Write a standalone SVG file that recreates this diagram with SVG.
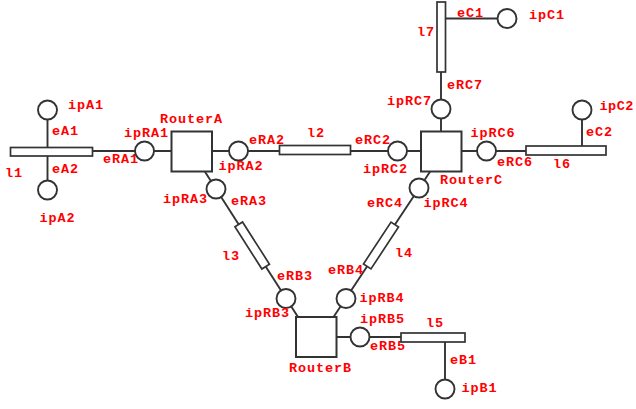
<svg xmlns="http://www.w3.org/2000/svg" width="636" height="409" viewBox="0 0 636 409">
<style>
.t{font-family:"Liberation Mono","DejaVu Sans Mono",monospace;font-size:13.5px;font-weight:bold;fill:#f00;letter-spacing:0.9px}
.c{fill:#fff;stroke:#333;stroke-width:1.9}
.r{fill:#fff;stroke:#333;stroke-width:2}
.b{fill:#fff;stroke:#333;stroke-width:1.7}
.l{stroke:#333;stroke-width:1.9;fill:none}
</style>
<rect width="636" height="409" fill="#fff"/>
<g id="connectors">
<line class="l" x1="47.5" y1="110" x2="47.5" y2="190"/>
<line class="l" x1="92" y1="151" x2="172" y2="151"/>
<line class="l" x1="212" y1="151" x2="280" y2="151"/>
<line class="l" x1="350" y1="151" x2="421" y2="151"/>
<line class="l" x1="461" y1="151" x2="526" y2="151"/>
<line class="l" x1="582" y1="110" x2="582" y2="146"/>
<line class="l" x1="441" y1="72" x2="441" y2="132"/>
<line class="l" x1="445" y1="18.5" x2="507" y2="18.5"/>
<line class="l" x1="204.5" y1="171" x2="298" y2="317"/>
<line class="l" x1="430.5" y1="171" x2="333.5" y2="317"/>
<line class="l" x1="336" y1="337" x2="401" y2="337"/>
<line class="l" x1="445" y1="342" x2="445" y2="389"/>
<text class="t" x="52" y="135">eA1</text>
<text class="t" x="52" y="173">eA2</text>
<text class="t" x="103" y="163">eRA1</text>
<text class="t" x="249" y="143.5">eRA2</text>
<text class="t" x="355" y="144">eRC2</text>
<text class="t" x="231" y="205">eRA3</text>
<text class="t" x="367" y="207">eRC4</text>
<text class="t" x="277" y="280">eRB3</text>
<text class="t" x="328" y="273.5">eRB4</text>
<text class="t" x="370" y="350">eRB5</text>
<text class="t" x="450" y="363.5">eB1</text>
<text class="t" x="497" y="166">eRC6</text>
<text class="t" x="586" y="136">eC2</text>
<text class="t" x="447" y="88.5">eRC7</text>
<text class="t" x="457" y="17">eC1</text>
</g>
<g id="l1"><rect class="b" x="10.5" y="147.5" width="82" height="8.5"/><text class="t" x="5" y="177">l1</text></g>
<g id="l2"><rect class="b" x="279.5" y="145.5" width="71" height="9"/><text class="t" x="307" y="137">l2</text></g>
<g id="l3"><rect class="b" x="-25" y="-4.5" width="50" height="9" transform="translate(252.2,245.5) rotate(57.4)"/><text class="t" x="222" y="260">l3</text></g>
<g id="l4"><rect class="b" x="-25" y="-4.5" width="50" height="9" transform="translate(381,245.5) rotate(-56.6)"/><text class="t" x="395" y="257">l4</text></g>
<g id="l5"><rect class="b" x="401" y="333" width="64" height="9"/><text class="t" x="426" y="327">l5</text></g>
<g id="l6"><rect class="b" x="526" y="146" width="80" height="9"/><text class="t" x="553" y="167.5">l6</text></g>
<g id="l7"><rect class="b" x="437" y="2" width="8.5" height="70"/><text class="t" x="417" y="36">l7</text></g>
<g id="RouterA"><rect class="r" x="171.5" y="131.5" width="40.5" height="40"/><text class="t" x="160" y="122.5">RouterA</text></g>
<g id="RouterB"><rect class="r" x="296" y="317" width="40.5" height="40"/><text class="t" x="289" y="372">RouterB</text></g>
<g id="RouterC"><rect class="r" x="421" y="131.5" width="40.5" height="40"/><text class="t" x="440" y="183.5">RouterC</text></g>
<g id="ipA1"><circle class="c" cx="47.5" cy="110" r="9.5"/><text class="t" x="68" y="108.5">ipA1</text></g>
<g id="ipA2"><circle class="c" cx="47.5" cy="190" r="9.5"/><text class="t" x="39.5" y="221.5">ipA2</text></g>
<g id="ipRA1"><circle class="c" cx="144.5" cy="151" r="9.5"/><text class="t" x="124" y="137">ipRA1</text></g>
<g id="ipRA2"><circle class="c" cx="238.5" cy="151" r="9.5"/><text class="t" x="218.5" y="170">ipRA2</text></g>
<g id="ipRA3"><circle class="c" cx="216" cy="189" r="9.5"/><text class="t" x="163" y="203">ipRA3</text></g>
<g id="ipRC2"><circle class="c" cx="397.5" cy="151" r="9.5"/><text class="t" x="363" y="172.5">ipRC2</text></g>
<g id="ipRC4"><circle class="c" cx="419" cy="188" r="9.5"/><text class="t" x="423.5" y="207">ipRC4</text></g>
<g id="ipRC6"><circle class="c" cx="486.5" cy="151" r="9.5"/><text class="t" x="470.5" y="137">ipRC6</text></g>
<g id="ipRC7"><circle class="c" cx="441" cy="109" r="9.5"/><text class="t" x="387" y="105">ipRC7</text></g>
<g id="ipC1"><circle class="c" cx="507" cy="18.5" r="9.5"/><text class="t" x="529" y="19">ipC1</text></g>
<g id="ipC2"><circle class="c" cx="582" cy="110" r="9.5"/><text class="t" x="599.5" y="110" style="letter-spacing:0.5px">ipC2</text></g>
<g id="ipRB3"><circle class="c" cx="286" cy="298.5" r="9.5"/><text class="t" x="245" y="316.5">ipRB3</text></g>
<g id="ipRB4"><circle class="c" cx="346" cy="298.5" r="9.5"/><text class="t" x="359.5" y="302">ipRB4</text></g>
<g id="ipRB5"><circle class="c" cx="360" cy="337" r="9.5"/><text class="t" x="360" y="323">ipRB5</text></g>
<g id="ipB1"><circle class="c" cx="445" cy="389" r="9.5"/><text class="t" x="461.5" y="392">ipB1</text></g>
</svg>
